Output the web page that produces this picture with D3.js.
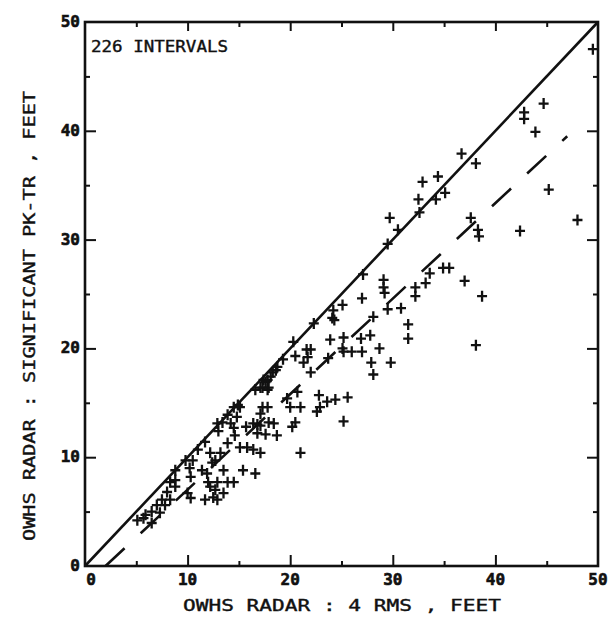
<!DOCTYPE html>
<html><head><meta charset="utf-8">
<script src="https://cdn.jsdelivr.net/npm/d3@7"></script>
<style>body{margin:0;background:#fff}svg{display:block}</style>
</head><body><svg id="c" width="613" height="620"></svg>
<script>
const xTickLabels=[0,10,20,30,40,50];
const yTickLabels=[0,10,20,30,40,50];
const minorTicks=[5,15,25,35,45];
const annotation="226 INTERVALS";
const xTitle="OWHS RADAR : 4 RMS , FEET";
const yTitle="OWHS RADAR : SIGNIFICANT PK-TR , FEET";
const perfectLine=[[0,0],[50,50]];
const fitLine=[[2,0],[47,39.5]];
const rmsX=[5.1,5.7,5.9,6.5,6.5,7.0,7.3,7.5,7.8,8.0,8.3,8.3,8.8,8.8,8.8,9.8,10.2,10.5,10.3,10.3,10.0,11.0,11.4,11.7,11.7,11.9,12.0,12.2,12.2,12.4,12.5,12.7,12.7,12.9,12.9,12.9,13.0,13.2,13.4,13.5,13.5,13.9,13.9,13.9,14.2,14.5,14.5,14.5,14.9,14.6,14.8,15.1,15.1,15.4,15.7,15.8,16.4,16.4,16.6,16.6,16.8,16.8,17.1,17.1,17.1,17.1,17.3,17.3,17.4,17.6,17.6,17.8,17.8,17.8,17.9,17.9,18.1,18.3,18.4,18.6,18.7,18.75,19.3,19.7,20.0,20.2,20.3,20.5,20.5,20.7,21.0,21.0,21.3,21.6,21.7,22.0,22.0,22.3,22.6,22.8,22.9,23.6,23.7,23.9,24.1,24.2,24.3,24.4,25.2,25.1,25.2,25.1,25.6,25.2,26.0,26.9,27.0,27.0,27.1,27.8,27.9,28.1,28.1,28.7,29.1,29.1,29.2,29.5,29.5,29.7,29.8,30.5,30.8,31.5,31.5,32.2,32.2,32.5,32.6,32.9,33.2,33.6,34.2,34.4,34.9,35.1,35.5,36.7,37.0,37.6,38.1,38.1,38.3,38.4,38.7,42.4,42.8,42.8,43.9,44.7,45.2,48.0,49.5];
const pkY=[4.2,4.4,4.7,5.0,3.95,5.6,4.9,6.1,5.6,6.8,7.7,6.1,7.3,7.9,8.8,9.7,9.0,9.7,8.2,6.25,6.7,10.7,8.8,11.4,6.1,8.5,7.7,7.3,10.4,9.5,6.3,7.0,9.7,6.1,7.7,13.1,12.4,10.4,13.2,8.8,6.7,7.7,11.3,13.9,13.1,7.7,12.7,14.6,14.8,12.0,13.7,14.6,10.9,8.8,12.8,10.9,10.7,13.1,8.5,16.2,13.0,12.2,10.4,16.4,14.0,12.9,14.6,16.4,17.1,16.9,12.1,17.1,16.2,14.6,13.2,16.4,17.4,17.8,13.1,18.0,12.0,18.3,19.0,15.4,14.6,12.8,20.6,13.2,19.3,16.0,14.6,10.4,18.7,19.9,19.2,19.9,17.8,22.3,14.2,15.7,14.6,15.1,19.1,20.8,22.8,23.5,22.6,15.3,13.3,24.0,21.0,20.0,15.5,19.7,19.7,20.9,19.7,24.6,26.8,21.2,18.7,22.9,17.6,20.0,26.3,25.6,25.1,29.6,23.6,32.0,18.7,30.9,23.7,22.2,20.9,25.6,24.8,33.7,32.5,35.3,26.0,26.9,33.7,35.8,27.4,34.3,27.4,37.9,26.2,32.0,37.0,20.3,30.9,30.3,24.8,30.8,41.7,41.1,39.9,42.5,34.6,31.8,47.5];

const L=85,R=598,T=22,B=566;
const svg=d3.select("#c");
const x=d3.scaleLinear().domain([0,50]).range([L,R]);
const y=d3.scaleLinear().domain([0,50]).range([B,T]);
const ink="#111";
const font="'DejaVu Sans Mono', monospace";

svg.append("rect").attr("x",L).attr("y",T).attr("width",R-L).attr("height",B-T)
  .attr("fill","none").attr("stroke",ink).attr("stroke-width",2.6);

function ticks(axisFn, scale, vals, size, tr){
  const g=svg.append("g").attr("transform",tr)
    .call(axisFn(scale).tickValues(vals).tickSize(size).tickFormat(""));
  g.select(".domain").remove();
  g.selectAll("line").attr("stroke",ink).attr("stroke-width",2);
}
ticks(d3.axisTop,x,[10,20,30,40],11,`translate(0,${B})`);
ticks(d3.axisTop,x,minorTicks,5,`translate(0,${B})`);
ticks(d3.axisBottom,x,[10,20,30,40],9,`translate(0,${T})`);
ticks(d3.axisBottom,x,minorTicks,5,`translate(0,${T})`);
ticks(d3.axisRight,y,[10,20,30,40],11,`translate(${L},0)`);
ticks(d3.axisRight,y,minorTicks,5,`translate(${L},0)`);
ticks(d3.axisLeft,y,[10,20,30,40],11,`translate(${R},0)`);
ticks(d3.axisLeft,y,minorTicks,5,`translate(${R},0)`);

svg.append("g").selectAll("text").data(xTickLabels).join("text")
  .attr("x",d=>x(d)+(d===0?6:0)).attr("y",B+19).attr("text-anchor","middle")
  .attr("font-family",font).attr("font-weight","bold").attr("font-size",16).attr("fill",ink)
  .attr("stroke",ink).attr("stroke-width",0.6).text(d=>d);
svg.append("g").selectAll("text").data(yTickLabels).join("text")
  .attr("x",L-5).attr("y",d=>y(d)+5).attr("text-anchor","end")
  .attr("font-family",font).attr("font-weight","bold").attr("font-size",16).attr("fill",ink)
  .attr("stroke",ink).attr("stroke-width",0.6).text(d=>d);

const line=d3.line().x(d=>x(d[0])).y(d=>y(d[1]));
svg.append("path").attr("d",line(perfectLine)).attr("stroke",ink).attr("stroke-width",2.6).attr("fill","none");
svg.append("path").attr("d",line(fitLine)).attr("stroke",ink).attr("stroke-width",2.6).attr("fill","none")
  .attr("stroke-dasharray","26,22");

const pts=rmsX.map((v,i)=>[v,pkY[i]]);
svg.append("g").selectAll("path").data(pts).join("path")
  .attr("d",d=>{const cx=x(d[0]),cy=y(d[1]);return `M${cx-5},${cy}H${cx+5}M${cx},${cy-5.5}V${cy+5.5}`;})
  .attr("stroke",ink).attr("stroke-width",2.3).attr("fill","none");

function title(sel){return sel.attr("font-family",font).attr("font-size",16).attr("fill",ink)
  .attr("stroke",ink).attr("stroke-width",0.4).attr("lengthAdjust","spacingAndGlyphs");}
title(svg.append("text").attr("x",91).attr("y",52).attr("textLength",137)).text(annotation);
title(svg.append("text").attr("x",183).attr("y",611).attr("textLength",318)).text(xTitle);
title(svg.append("text").attr("transform","translate(35,541) rotate(-90)").attr("textLength",450)).text(yTitle);
</script></body></html>
